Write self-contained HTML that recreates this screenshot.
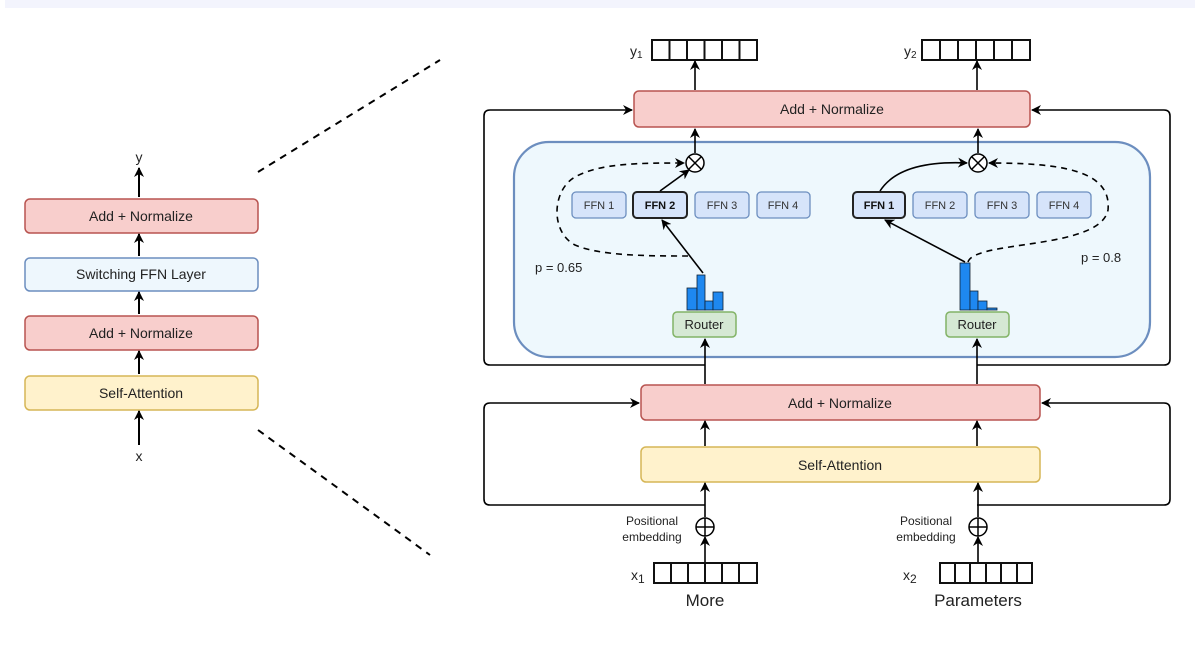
<!DOCTYPE html>
<html><head><meta charset="utf-8"><style>
html,body{margin:0;padding:0;background:#fff;}
svg{display:block;font-family:"Liberation Sans",sans-serif;}
</style></head><body>
<svg width="1195" height="650" viewBox="0 0 1195 650" xmlns="http://www.w3.org/2000/svg">
<defs>
<marker id="a" viewBox="0 0 10 10" refX="9" refY="5" markerWidth="10" markerHeight="10" orient="auto-start-reverse" markerUnits="userSpaceOnUse"><path d="M0,0 L10,5 L0,10 L3,5 z" fill="#000"/></marker>
</defs>
<rect x="5" y="0" width="1190" height="8" fill="#f3f4fd"/>
<g stroke="#000" stroke-width="2" stroke-dasharray="7,6" fill="none">
<line x1="258" y1="172" x2="440" y2="60"/>
<line x1="258" y1="430" x2="430" y2="555"/>
</g>
<!-- left stack -->
<g font-size="14" text-anchor="middle" fill="#222">
<rect x="25" y="199" width="233" height="34" rx="5" fill="#f8cecc" stroke="#b85450" stroke-width="1.5"/>
<text x="141" y="221">Add + Normalize</text>
<rect x="25" y="258" width="233" height="33" rx="5" fill="#eef7fd" stroke="#6c8ebf" stroke-width="1.5"/>
<text x="141" y="279">Switching FFN Layer</text>
<rect x="25" y="316" width="233" height="34" rx="5" fill="#f8cecc" stroke="#b85450" stroke-width="1.5"/>
<text x="141" y="338">Add + Normalize</text>
<rect x="25" y="376" width="233" height="34" rx="5" fill="#fff2cc" stroke="#d6b656" stroke-width="1.5"/>
<text x="141" y="398">Self-Attention</text>
<text x="139" y="162">y</text>
<text x="139" y="461">x</text>
</g>
<g stroke="#000" stroke-width="2" marker-end="url(#a)">
<line x1="139" y1="197" x2="139" y2="168"/>
<line x1="139" y1="256" x2="139" y2="234"/>
<line x1="139" y1="314" x2="139" y2="292"/>
<line x1="139" y1="374" x2="139" y2="351"/>
<line x1="139" y1="445" x2="139" y2="411"/>
</g>
<!-- residual outlines -->
<g stroke="#000" stroke-width="1.6" fill="none">
<path d="M705,365 H490 Q484,365 484,359 V116 Q484,110 490,110 H632" marker-end="url(#a)"/>
<path d="M977,365 H1164 Q1170,365 1170,359 V116 Q1170,110 1164,110 H1032" marker-end="url(#a)"/>
<path d="M705,505 H490 Q484,505 484,499 V409 Q484,403 490,403 H639" marker-end="url(#a)"/>
<path d="M977,505 H1164 Q1170,505 1170,499 V409 Q1170,403 1164,403 H1042" marker-end="url(#a)"/>
</g>
<!-- MoE box -->
<rect x="514" y="142" width="636" height="215" rx="35" fill="#eef8fd" stroke="#6c8ebf" stroke-width="2.2"/>
<!-- boxes -->
<g font-size="14" text-anchor="middle" fill="#222">
<rect x="634" y="91" width="396" height="36" rx="5" fill="#f8cecc" stroke="#b85450" stroke-width="1.5"/>
<text x="832" y="114">Add + Normalize</text>
<rect x="641" y="385" width="399" height="35" rx="5" fill="#f8cecc" stroke="#b85450" stroke-width="1.5"/>
<text x="840" y="408">Add + Normalize</text>
<rect x="641" y="447" width="399" height="35" rx="5" fill="#fff2cc" stroke="#d6b656" stroke-width="1.5"/>
<text x="840" y="470">Self-Attention</text>
<rect x="673" y="312" width="63" height="25" rx="4" fill="#d5e8d4" stroke="#82b366" stroke-width="1.5"/>
<text x="704" y="329" font-size="13">Router</text>
<rect x="946" y="312" width="63" height="25" rx="4" fill="#d5e8d4" stroke="#82b366" stroke-width="1.5"/>
<text x="977" y="329" font-size="13">Router</text>
</g>
<g font-size="11" text-anchor="middle" fill="#333">
<rect x="572" y="192" width="54" height="26" rx="4" fill="#d6e4fa" stroke="#6c8ebf" stroke-width="1.3"/><text x="599" y="209">FFN 1</text>
<rect x="633" y="192" width="54" height="26" rx="4" fill="#d6e4fa" stroke="#222" stroke-width="2"/><text x="660" y="209" font-weight="bold" fill="#111">FFN 2</text>
<rect x="695" y="192" width="54" height="26" rx="4" fill="#d6e4fa" stroke="#6c8ebf" stroke-width="1.3"/><text x="722" y="209">FFN 3</text>
<rect x="757" y="192" width="53" height="26" rx="4" fill="#d6e4fa" stroke="#6c8ebf" stroke-width="1.3"/><text x="783" y="209">FFN 4</text>
<rect x="853" y="192" width="52" height="26" rx="4" fill="#d6e4fa" stroke="#222" stroke-width="2"/><text x="879" y="209" font-weight="bold" fill="#111">FFN 1</text>
<rect x="913" y="192" width="54" height="26" rx="4" fill="#d6e4fa" stroke="#6c8ebf" stroke-width="1.3"/><text x="940" y="209">FFN 2</text>
<rect x="975" y="192" width="54" height="26" rx="4" fill="#d6e4fa" stroke="#6c8ebf" stroke-width="1.3"/><text x="1002" y="209">FFN 3</text>
<rect x="1037" y="192" width="54" height="26" rx="4" fill="#d6e4fa" stroke="#6c8ebf" stroke-width="1.3"/><text x="1064" y="209">FFN 4</text>
</g>
<!-- histograms -->
<g fill="#1e88f0" stroke="#123" stroke-width="0.8">
<rect x="687" y="288" width="10" height="22"/>
<rect x="697" y="275" width="8" height="35"/>
<rect x="705" y="301" width="8" height="9"/>
<rect x="713" y="292" width="10" height="18"/>
<rect x="960" y="263" width="10" height="47"/>
<rect x="970" y="291" width="8" height="19"/>
<rect x="978" y="301" width="9" height="9"/>
<rect x="987" y="308" width="10" height="2"/>
</g>
<!-- otimes -->
<g stroke="#000" stroke-width="1.5" fill="#fff">
<circle cx="695" cy="163" r="9"/><path d="M689,157 L701,169 M701,157 L689,169"/>
<circle cx="978" cy="163" r="9"/><path d="M972,157 L984,169 M984,157 L972,169"/>
<circle cx="705" cy="527" r="9"/><path d="M696,527 H714 M705,518 V536"/>
<circle cx="978" cy="527" r="9"/><path d="M969,527 H987 M978,518 V536"/>
</g>
<!-- arrows inside -->
<g stroke="#000" stroke-width="1.6" fill="none" marker-end="url(#a)">
<line x1="703" y1="273" x2="662" y2="220"/>
<line x1="660" y1="191" x2="689" y2="170"/>
<line x1="695" y1="153" x2="695" y2="129"/>
<line x1="965" y1="262" x2="885" y2="220"/>
<path d="M880,191 Q900,160 967,163"/>
<line x1="978" y1="153" x2="978" y2="129"/>
<line x1="695" y1="90" x2="695" y2="61"/>
<line x1="977" y1="90" x2="977" y2="61"/>
<line x1="705" y1="384" x2="705" y2="339"/>
<line x1="977" y1="384" x2="977" y2="339"/>
<line x1="705" y1="446" x2="705" y2="421"/>
<line x1="977" y1="446" x2="977" y2="421"/>
<line x1="705" y1="517" x2="705" y2="483"/>
<line x1="978" y1="517" x2="978" y2="483"/>
<line x1="705" y1="563" x2="705" y2="537"/>
<line x1="978" y1="563" x2="978" y2="537"/>
</g>
<g stroke="#000" stroke-width="1.6" fill="none" stroke-dasharray="6,5" marker-end="url(#a)">
<path d="M688,256 C650,256 600,256 575,245 C550,232 552,190 575,177 C600,163 640,163 684,163"/>
<path d="M968,262 C975,240 1100,250 1108,210 C1112,170 1060,163 989,163"/>
</g>
<!-- vectors -->
<g fill="#fff" stroke="#111" stroke-width="2">
<rect x="652" y="40" width="105" height="20"/>
<rect x="922" y="40" width="108" height="20"/>
<rect x="654" y="563" width="103" height="20"/>
<rect x="940" y="563" width="92" height="20"/>
<path d="M669.5,40V60M687,40V60M704.5,40V60M722,40V60M739.5,40V60"/>
<path d="M940,40V60M958,40V60M976,40V60M994,40V60M1012,40V60"/>
<path d="M671,563V583M688,563V583M705,563V583M722,563V583M739,563V583"/>
<path d="M955,563V583M970,563V583M986,563V583M1001,563V583M1017,563V583"/>
</g>
<g fill="#222">
<text x="630" y="56" font-size="14">y<tspan font-size="10" dy="2">1</tspan></text>
<text x="904" y="56" font-size="14">y<tspan font-size="10" dy="2">2</tspan></text>
<text x="631" y="580" font-size="14">x<tspan font-size="12" dy="3">1</tspan></text>
<text x="903" y="580" font-size="14">x<tspan font-size="12" dy="3">2</tspan></text>
<text x="705" y="606" font-size="17" text-anchor="middle">More</text>
<text x="978" y="606" font-size="17" text-anchor="middle">Parameters</text>
<text x="652" y="525" font-size="12" text-anchor="middle">Positional</text>
<text x="652" y="541" font-size="12" text-anchor="middle">embedding</text>
<text x="926" y="525" font-size="12" text-anchor="middle">Positional</text>
<text x="926" y="541" font-size="12" text-anchor="middle">embedding</text>
<text x="535" y="272" font-size="13">p = 0.65</text>
<text x="1081" y="262" font-size="13">p = 0.8</text>
</g>
</svg>
</body></html>
